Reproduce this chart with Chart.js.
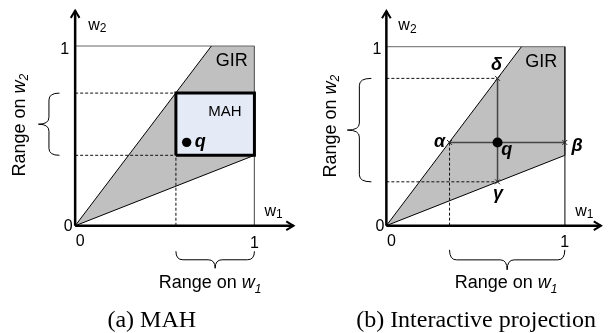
<!DOCTYPE html>
<html>
<head>
<meta charset="utf-8">
<script src="https://cdn.jsdelivr.net/npm/chart.js@4"></script>
<style>
  body { margin: 0; background: #fff; }
  #wrap { position: relative; width: 608px; height: 333px; }
  canvas { position: absolute; top: 0; }
</style>
</head>
<body>
<div id="wrap">
  <canvas id="chartA" width="304" height="333" style="left:0"></canvas>
  <canvas id="chartB" width="304" height="333" style="left:304px"></canvas>
</div>
<script>
// PANEL (a): GIR polygon, MAH box and the query point
const girA = [[0, 0], [0.76, 1], [1, 1], [1, 0.392], [0, 0]];
const mahA = [[0.562, 0.392], [0.562, 0.738], [1, 0.738], [1, 0.392], [0.562, 0.392]];
const qA = [0.622, 0.464];
const rangeW1A = [0.562, 1];
const rangeW2A = [0.392, 0.738];

// PANEL (b): GIR polygon, query point and its projections
const girB = [[0, 0], [0.757, 1], [1, 1], [1, 0.393], [0, 0]];
const qB = [0.623, 0.465];
const alphaB = [0.354, 0.465];
const betaB = [1, 0.465];
const gammaB = [0.623, 0.245];
const deltaB = [0.623, 0.823];
const rangeW1B = [alphaB[0], betaB[0]];
const rangeW2B = [gammaB[1], deltaB[1]];

const tickLabels = ["0", "1"];

const SANS = '"Liberation Sans", Arial, Helvetica, sans-serif';
const SERIF = '"Liberation Serif", "Times New Roman", serif';
const fnt = (size, style) => `${style || ""} ${size}px ${SANS}`;

function pts(arr) {
  return arr.map(([x, y]) => ({ x, y }));
}
function path(arr, o) {
  return Object.assign(
    { data: pts(arr), borderColor: "#000", borderWidth: 1, pointRadius: 0, fill: false, tension: 0 },
    o || {}
  );
}
const DASH = { borderDash: [3, 2], borderColor: "#111" };
const AXIS = { borderWidth: 2.5, borderColor: "#000" };

function axes(xTip, yTip, unit) {
  const len = 7.5 / unit, half = 4.5 / unit;
  const head = { borderWidth: 2, borderJoinStyle: "miter" };
  return [
    path([[0, 0], [0, yTip]], AXIS),
    path([[0, 0], [xTip, 0]], AXIS),
    path([[-half, yTip - len], [0, yTip], [half, yTip - len]], head),
    path([[xTip - len, half], [xTip, 0], [xTip - len, -half]], head),
  ];
}
function dot(p, r) {
  return { data: pts([p]), showLine: false, pointRadius: r, pointBackgroundColor: "#000", pointBorderWidth: 0 };
}

function drawParts(ctx, parts, x, y, align, base) {
  ctx.textBaseline = base || "alphabetic";
  ctx.textAlign = "left";
  let w = 0;
  parts.forEach((p) => { ctx.font = p.f; w += ctx.measureText(p.t).width; });
  let cx = align === "center" ? x - w / 2 : align === "right" ? x - w : x;
  parts.forEach((p) => {
    ctx.font = p.f;
    ctx.fillText(p.t, cx, y + (p.dy || 0));
    cx += ctx.measureText(p.t).width;
  });
}

function brace(ctx, p0, p1, nx, ny, depth) {
  const L = Math.hypot(p1[0] - p0[0], p1[1] - p0[1]);
  const ux = (p1[0] - p0[0]) / L, uy = (p1[1] - p0[1]) / L;
  const h = depth / 2, r = Math.min(7, L / 6), m = L / 2;
  const P = (u, v) => [p0[0] + ux * u + nx * v, p0[1] + uy * u + ny * v];
  ctx.beginPath();
  ctx.moveTo(...P(0, 0));
  ctx.quadraticCurveTo(...P(0, h), ...P(r, h));
  ctx.lineTo(...P(m - r, h));
  ctx.quadraticCurveTo(...P(m, h), ...P(m, depth));
  ctx.quadraticCurveTo(...P(m, h), ...P(m + r, h));
  ctx.lineTo(...P(L - r, h));
  ctx.quadraticCurveTo(...P(L, h), ...P(L, 0));
  ctx.stroke();
}

function rangeParts(sub) {
  return [
    { t: "Range on ", f: fnt(18) },
    { t: "w", f: fnt(18, "italic") },
    { t: sub, f: fnt(12, "italic"), dy: 4.5 },
  ];
}
function axisName(sub) {
  return [{ t: "w", f: fnt(16) }, { t: sub, f: fnt(12), dy: 2.5 }];
}

function notesPlugin(n) {
  return {
    id: "notes",
    afterDatasetsDraw(chart) {
      const ctx = chart.ctx;
      const X = (v) => chart.scales.x.getPixelForValue(v);
      const Y = (v) => chart.scales.y.getPixelForValue(v);
      const x0 = X(0), y0 = Y(0);
      ctx.save();
      ctx.fillStyle = "#000";
      n.labels.forEach((l) => {
        drawParts(ctx, l.parts, X(l.at[0]) + l.dx, Y(l.at[1]) + l.dy, l.align, l.base);
      });

      // braces beside / under the ranges
      ctx.strokeStyle = "#000";
      ctx.lineWidth = 1;
      brace(ctx, [x0 + n.by.base, Y(n.rangeW2[1])], [x0 + n.by.base, Y(n.rangeW2[0])], -1, 0, n.by.depth);
      brace(ctx, [X(n.rangeW1[0]), y0 + n.bx.base], [X(n.rangeW1[1]), y0 + n.bx.base], 0, 1, n.bx.depth);

      // range texts
      ctx.save();
      ctx.translate(x0 + n.ry.dx, Y((n.rangeW2[0] + n.rangeW2[1]) / 2) + n.ry.dy);
      ctx.rotate(-Math.PI / 2);
      drawParts(ctx, rangeParts("2"), 0, 0, "center", "middle");
      ctx.restore();
      drawParts(ctx, rangeParts("1"), X((n.rangeW1[0] + n.rangeW1[1]) / 2) + n.rx.dx, y0 + n.rx.dy, "center");

      // caption, serif
      ctx.font = `24px ${SERIF}`;
      ctx.textAlign = "center";
      ctx.textBaseline = "alphabetic";
      ctx.fillText(n.caption.text, X(0.5) + n.caption.dx, y0 + n.caption.dy);
      ctx.restore();
    },
  };
}

function makePanel(id, ox, unit, datasets, notes) {
  const W = 304, H = 333, oy = 227.5;
  datasets.forEach((d, i) => { d.order = datasets.length - i; });
  return new Chart(document.getElementById(id), {
    type: "line",
    data: { datasets },
    options: {
      responsive: false,
      animation: false,
      events: [],
      layout: { padding: 0 },
      plugins: { legend: { display: false }, tooltip: { enabled: false } },
      scales: {
        x: { type: "linear", display: false, min: -ox / unit, max: (W - ox) / unit },
        y: { type: "linear", display: false, min: -(H - oy) / unit, max: oy / unit },
      },
    },
    plugins: [notesPlugin(notes)],
  });
}

// ---- PANEL (a) ----
makePanel(
  "chartA", 72.7, 185,
  [
    path(girA, { fill: "shape", backgroundColor: "#c0c0c0", borderColor: "rgba(0,0,0,0)" }),
    path([[0, 1], [1, 1], [1, 0]], { borderColor: "#666" }),
    path([girA[0], girA[1]]),
    path([girA[0], girA[3]]),
    path([[0, rangeW2A[1]], [rangeW1A[0], rangeW2A[1]]], DASH),
    path([[0, rangeW2A[0]], [rangeW1A[0], rangeW2A[0]]], DASH),
    path([[rangeW1A[0], 0], [rangeW1A[0], rangeW2A[0]]], DASH),
    path(mahA, { fill: "shape", backgroundColor: "#e4ebf7", borderWidth: 3, borderJoinStyle: "miter" }),
    ...axes(1.218, 1.197, 185),
    dot(qA, 4.7),
  ],
  {
    rangeW1: rangeW1A,
    rangeW2: rangeW2A,
    by: { base: -15.7, depth: 21 },
    bx: { base: 25.5, depth: 17 },
    ry: { dx: -54.7, dy: 1 },
    rx: { dx: -5, dy: 62.5 },
    caption: { text: "(a) MAH", dx: -13, dy: 101.5 },
    labels: [
      { parts: axisName("2"), at: [0, 1], dx: 13, dy: -16.5, align: "left" },
      { parts: [{ t: tickLabels[1], f: fnt(16) }], at: [0, 1], dx: -6, dy: 7.5, align: "right" },
      { parts: [{ t: tickLabels[0], f: fnt(16) }], at: [0, 0], dx: -2.5, dy: 5.5, align: "right" },
      { parts: [{ t: tickLabels[0], f: fnt(16) }], at: [0, 0], dx: 5, dy: 20, align: "center" },
      { parts: [{ t: tickLabels[1], f: fnt(16) }], at: [1, 0], dx: 0, dy: 22, align: "center" },
      { parts: axisName("1"), at: [1, 0], dx: 10, dy: -10, align: "left" },
      { parts: [{ t: "GIR", f: fnt(18) }], at: [1, 1], dx: -22.7, dy: 15, align: "center", base: "middle" },
      { parts: [{ t: "MAH", f: fnt(15) }], at: [1, rangeW2A[1]], dx: -29.5, dy: 19, align: "center", base: "middle" },
      { parts: [{ t: "q", f: fnt(18, "italic bold") }], at: qA, dx: 8, dy: 4.5, align: "left" },
    ],
  }
);

// ---- PANEL (b) ----
makePanel(
  "chartB", 80, 184.5,
  [
    path(girB, { fill: "shape", backgroundColor: "#c0c0c0", borderColor: "rgba(0,0,0,0)" }),
    path([[0, 1], [1, 1], [1, 0]], { borderColor: "#666" }),
    path([girB[0], girB[1]]),
    path([girB[0], girB[3]]),
    path([girB[3], girB[2]], { borderColor: "#222", borderWidth: 1.3 }),
    path([[0, deltaB[1]], deltaB], DASH),
    path([[0, gammaB[1]], gammaB], DASH),
    path([[alphaB[0], 0], alphaB], DASH),
    path([alphaB, betaB], { borderColor: "#444", borderWidth: 1.5 }),
    path([gammaB, deltaB], { borderColor: "#444", borderWidth: 1.5 }),
    {
      data: pts([alphaB, betaB, gammaB, deltaB]),
      showLine: false,
      pointStyle: "crossRot",
      pointRadius: 3.5,
      pointBorderColor: "#222",
      pointBorderWidth: 1,
    },
    ...axes(1.203, 1.2, 184.5),
    dot(qB, 5),
  ],
  {
    rangeW1: rangeW1B,
    rangeW2: rangeW2B,
    by: { base: -15, depth: 24 },
    bx: { base: 24.2, depth: 20 },
    ry: { dx: -55, dy: -4 },
    rx: { dx: -1, dy: 62.5 },
    caption: { text: "(b) Interactive projection", dx: 0.5, dy: 101.5 },
    labels: [
      { parts: axisName("2"), at: [0, 1], dx: 12, dy: -16.5, align: "left" },
      { parts: [{ t: tickLabels[1], f: fnt(16) }], at: [0, 1], dx: -5, dy: 7.5, align: "right" },
      { parts: [{ t: tickLabels[0], f: fnt(16) }], at: [0, 0], dx: -2, dy: 5.5, align: "right" },
      { parts: [{ t: tickLabels[0], f: fnt(16) }], at: [0, 0], dx: 5, dy: 20, align: "center" },
      { parts: [{ t: tickLabels[1], f: fnt(16) }], at: [1, 0], dx: 0, dy: 21, align: "center" },
      { parts: axisName("1"), at: [1, 0], dx: 10.5, dy: -10, align: "left" },
      { parts: [{ t: "GIR", f: fnt(18) }], at: [1, 1], dx: -23.5, dy: 15, align: "center", base: "middle" },
      { parts: [{ t: "δ", f: fnt(18, "italic bold") }], at: deltaB, dx: -1, dy: -13.2, align: "center", base: "middle" },
      { parts: [{ t: "α", f: fnt(18, "italic bold") }], at: alphaB, dx: -4.3, dy: 0, align: "right", base: "middle" },
      { parts: [{ t: "β", f: fnt(18, "italic bold") }], at: betaB, dx: 6.7, dy: 3.3, align: "left", base: "middle" },
      { parts: [{ t: "q", f: fnt(18, "italic bold") }], at: qB, dx: 3.7, dy: 12.6, align: "left" },
      { parts: [{ t: "γ", f: fnt(18, "italic bold") }], at: gammaB, dx: 0.5, dy: 17, align: "center" },
    ],
  }
);
</script>
</body>
</html>
